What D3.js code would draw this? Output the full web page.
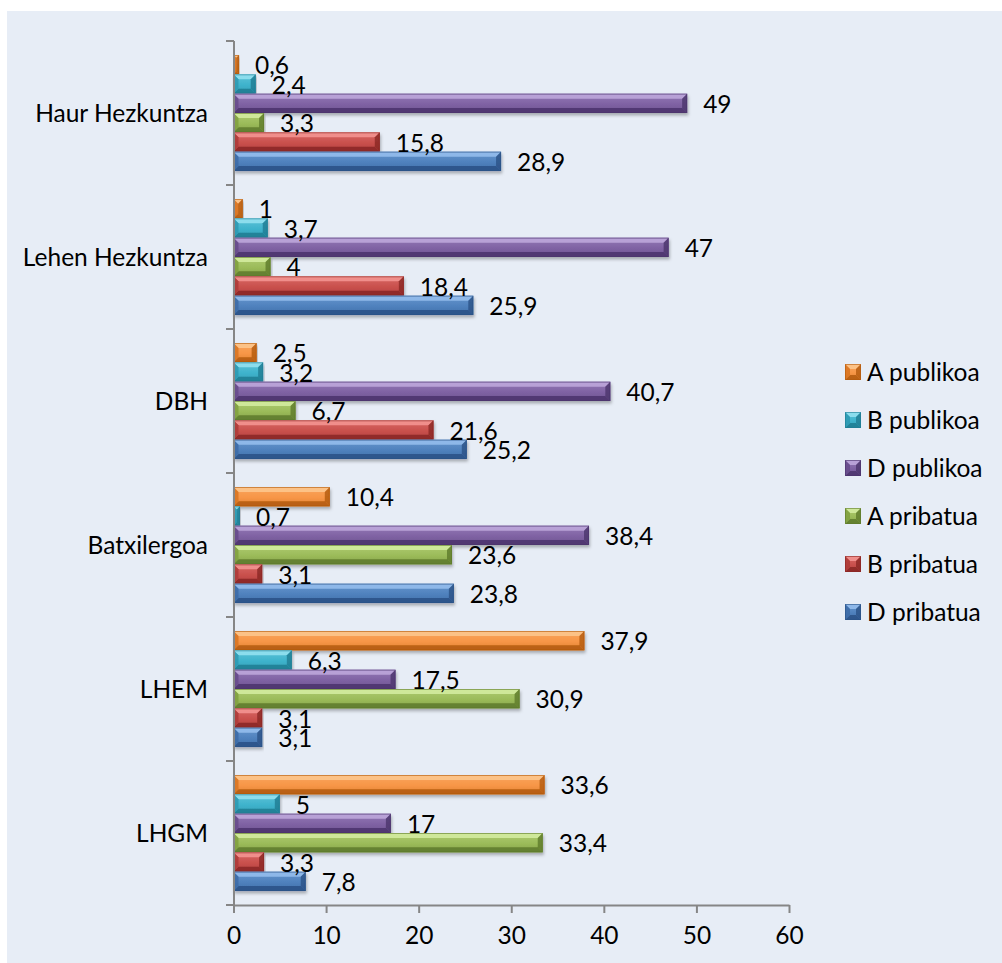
<!DOCTYPE html>
<html><head><meta charset="utf-8">
<script src="https://cdn.jsdelivr.net/npm/d3@7/dist/d3.min.js"></script>
<style>
html,body{margin:0;padding:0;background:#fff;}
text{font-family:Lato,"Liberation Sans",sans-serif;fill:#000;}
</style></head>
<body><svg id="chart" width="1002" height="963"></svg>
<script>
const categories = ["Haur Hezkuntza","Lehen Hezkuntza","DBH","Batxilergoa","LHEM","LHGM"];
const seriesNames = ["A publikoa","B publikoa","D publikoa","A pribatua","B pribatua","D pribatua"];
const aPublikoa = [0.6,1,2.5,10.4,37.9,33.6];
const bPublikoa = [2.4,3.7,3.2,0.7,6.3,5];
const dPublikoa = [49,47,40.7,38.4,17.5,17];
const aPribatua = [3.3,4,6.7,23.6,30.9,33.4];
const bPribatua = [15.8,18.4,21.6,3.1,3.1,3.3];
const dPribatua = [28.9,25.9,25.2,23.8,3.1,7.8];
const xTicks = [0,10,20,30,40,50,60];
const seriesValues = [aPublikoa,bPublikoa,dPublikoa,aPribatua,bPribatua,dPribatua];
// face, light, dark, edge
const palette = [
  {face:"#F79646", light:"#FCC58C", dark:"#B35A0E", side:"#D97522"},
  {face:"#3FB3CC", light:"#92E0EF", dark:"#1F7C92", side:"#2E9AB2"},
  {face:"#7F62A3", light:"#BCA6DA", dark:"#4B346C", side:"#684C8C"},
  {face:"#9BBB59", light:"#D3EB9E", dark:"#5E7A2B", side:"#82A140"},
  {face:"#C9504D", light:"#F39490", dark:"#8A2724", side:"#AE3C39"},
  {face:"#4F81BD", light:"#93BCEC", dark:"#2A5186", side:"#3D6CA7"}
];

const svg = d3.select("#chart");
const defs = svg.append("defs");
const flt = defs.append("filter").attr("id","shadow").attr("x","-5%").attr("y","-30%").attr("width","110%").attr("height","180%");
flt.append("feDropShadow").attr("dx",1).attr("dy",2.5).attr("stdDeviation",1.8).attr("flood-color","#000").attr("flood-opacity",0.28);
palette.forEach((p,i)=>{
  const g = defs.append("linearGradient").attr("id","grad"+i).attr("x1",0).attr("y1",0).attr("x2",0).attr("y2",1);
  g.append("stop").attr("offset","0%").attr("stop-color",d3.interpolateRgb(p.face,p.light)(0.35));
  g.append("stop").attr("offset","55%").attr("stop-color",p.face);
  g.append("stop").attr("offset","100%").attr("stop-color",d3.interpolateRgb(p.face,p.dark)(0.35));
});

// background
svg.append("rect").attr("x",7).attr("y",11).attr("width",995).attr("height",952).attr("fill","#E7EDF6");

const x = d3.scaleLinear().domain([0,60]).range([233.5,789]);
const y0 = d3.scaleBand().domain(categories).range([41,905]).padding(0);
const y1 = d3.scaleBand().domain(seriesNames).range([0,y0.bandwidth()]).paddingInner(0).paddingOuter(0.724);

function bevel(g, x0, yTop, w, h, p, gi){
  const b = Math.min(5, w/2, h/3);
  const x1 = x0 + w, yB = yTop + h;
  g.append("rect").attr("x",x0).attr("y",yTop).attr("width",w).attr("height",h).attr("fill","url(#grad"+gi+")");
  g.append("polygon").attr("points",[[x0,yTop],[x1,yTop],[x1-b,yTop+b],[x0+b,yTop+b]].join(" ")).attr("fill",p.light).attr("opacity",0.9);
  g.append("polygon").attr("points",[[x0,yB],[x1,yB],[x1-b,yB-b],[x0+b,yB-b]].join(" ")).attr("fill",p.dark).attr("opacity",0.85);
  g.append("polygon").attr("points",[[x0,yTop],[x0+b,yTop+b],[x0+b,yB-b],[x0,yB]].join(" ")).attr("fill",p.side).attr("opacity",0.9);
  g.append("polygon").attr("points",[[x1,yTop],[x1-b,yTop+b],[x1-b,yB-b],[x1,yB]].join(" ")).attr("fill",p.dark).attr("opacity",0.8);
  g.append("rect").attr("x",x0+0.5).attr("y",yTop+0.5).attr("width",Math.max(0,w-1)).attr("height",h-1).attr("fill","none").attr("stroke",p.dark).attr("stroke-opacity",0.6).attr("stroke-width",1);
}

// bars
const barsG = svg.append("g");
categories.forEach((c,ci)=>{
  seriesNames.forEach((s,si)=>{
    const v = seriesValues[si][ci];
    const g = barsG.append("g").attr("filter","url(#shadow)");
    bevel(g, x(0), y0(c)+y1(s), x(v)-x(0), y1.bandwidth(), palette[si], si);
  });
});

// axes
const axisColor = "#868686";
const yAxis = svg.append("g").attr("transform","translate(234,0)")
  .call(d3.axisLeft(y0).tickSize(0).tickFormat(""));
yAxis.select(".domain").remove();
svg.append("line").attr("x1",234).attr("x2",234).attr("y1",41).attr("y2",905.5).attr("stroke",axisColor).attr("stroke-width",2);
const yTickPos = categories.map(c=>y0(c)).concat([y0.range()[1]]);
svg.selectAll(".ytick").data(yTickPos).enter().append("line")
  .attr("x1",226).attr("x2",234).attr("y1",d=>d).attr("y2",d=>d).attr("stroke",axisColor).attr("stroke-width",2);
svg.selectAll(".ylab").data(categories).enter().append("text")
  .attr("x",208).attr("y",d=>y0(d)+y0.bandwidth()/2).attr("dy","0.35em")
  .attr("text-anchor","end").attr("font-size",24.5).text(d=>d);

const xAxis = svg.append("g").attr("transform","translate(0,905)")
  .call(d3.axisBottom(x).tickValues(xTicks).tickSize(8).tickPadding(14).tickSizeOuter(0));
xAxis.select(".domain").attr("stroke",axisColor).attr("stroke-width",2);
xAxis.selectAll(".tick line").attr("stroke",axisColor).attr("stroke-width",2);
xAxis.selectAll(".tick text").attr("font-size",24.5).attr("font-family","Lato").attr("fill","#000");

// value labels
const fmt = v => String(v).replace(".", ",");
categories.forEach((c,ci)=>{
  seriesNames.forEach((s,si)=>{
    const v = seriesValues[si][ci];
    svg.append("text").attr("x",x(v)+16).attr("y",y0(c)+y1(s)+y1.bandwidth()/2+9.8)
      .attr("font-size",24.5).text(fmt(v));
  });
});

// legend
const leg = svg.append("g");
seriesNames.forEach((s,si)=>{
  const cy = 372 + si*48;
  const g = leg.append("g");
  bevel(g, 845, cy-8, 16, 16, palette[si], si);
  leg.append("text").attr("x",867).attr("y",cy).attr("dy","0.35em").attr("font-size",24.5).text(s);
});
</script></body></html>
